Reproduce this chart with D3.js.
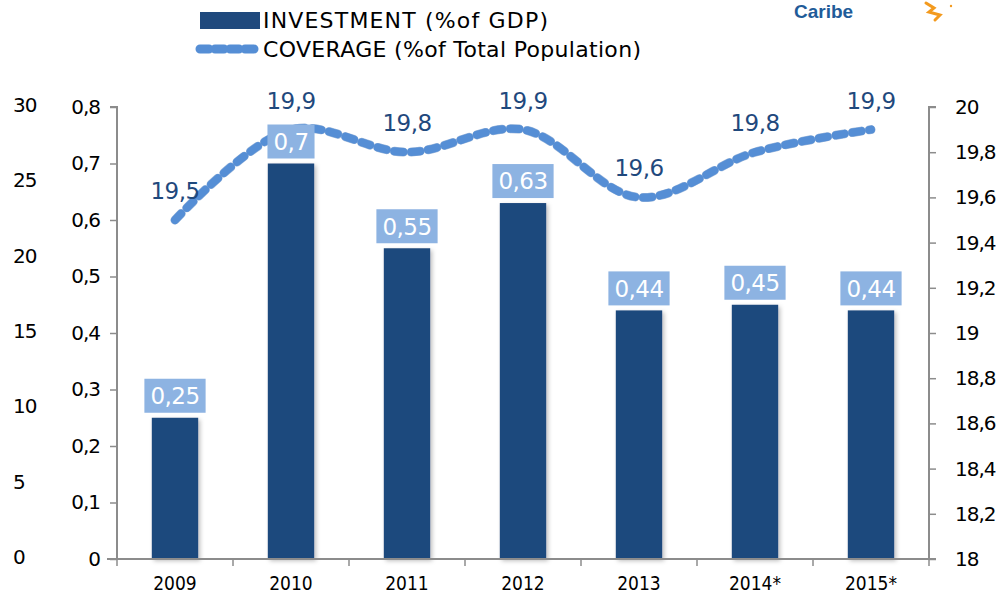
<!DOCTYPE html>
<html>
<head>
<meta charset="utf-8">
<script src="https://cdn.jsdelivr.net/npm/d3@7"></script>
<style>
  body { margin: 0; background: #fff; }
  svg { display: block; font-family: "DejaVu Sans", sans-serif; }
</style>
</head>
<body>
<svg id="chart" width="1004" height="593"></svg>
<script>
// ---- data ----
const years = ['2009', '2010', '2011', '2012', '2013', '2014*', '2015*'];
const investment = [0.25, 0.7, 0.55, 0.63, 0.44, 0.45, 0.44];
const coverage = [19.5, 19.9, 19.8, 19.9, 19.6, 19.8, 19.9];
const leftTicks = [0, 0.1, 0.2, 0.3, 0.4, 0.5, 0.6, 0.7, 0.8];
const farLeftTicks = [0, 5, 10, 15, 20, 25, 30];
const rightTicks = [18, 18.2, 18.4, 18.6, 18.8, 19, 19.2, 19.4, 19.6, 19.8, 20];

const fmt = v => String(+v.toFixed(2)).replace('.', ',');

const svg = d3.select('#chart');
const mLeft = 117, mRight = 929, mTop = 107, mBottom = 559;

const x = d3.scaleBand().domain(years).range([mLeft, mRight]).paddingInner(0.6).paddingOuter(0.3);
const xb = d3.scaleBand().domain(years).range([mLeft, mRight]);
const yL = d3.scaleLinear().domain([0, 0.8]).range([mBottom, mTop]);
const yF = d3.scaleLinear().domain([0, 30]).range([mBottom, mTop]);
const yR = d3.scaleLinear().domain([18, 20]).range([mBottom, mTop]);

const axisCol = '#8c8c8c';

// shadow for bars
const defs = svg.append('defs');
const f = defs.append('filter').attr('id', 'sh').attr('x', '-20%').attr('y', '-10%').attr('width', '140%').attr('height', '130%');
f.append('feDropShadow').attr('dx', 2).attr('dy', 2).attr('stdDeviation', 2).attr('flood-color', '#000').attr('flood-opacity', 0.25);

// bars
svg.append('g').selectAll('rect')
  .data(investment)
  .enter()
  .append('rect')
  .attr('x', (d, i) => x(years[i]))
  .attr('width', x.bandwidth())
  .attr('y', d => yL(d))
  .attr('height', d => mBottom - yL(d))
  .attr('fill', '#1f497d')
  .attr('filter', 'url(#sh)');

// left axis
const gL = svg.append('g').attr('transform', 'translate(' + mLeft + ',0)')
  .call(d3.axisLeft(yL).tickValues(leftTicks).tickSize(7).tickPadding(10).tickFormat(fmt));
// far-left axis, no line
const gF = svg.append('g').attr('transform', 'translate(13,-2)')
  .call(d3.axisRight(yF).tickValues(farLeftTicks).tickSize(0).tickPadding(0).tickFormat(fmt));
gF.select('.domain').remove();
// right axis
const gR = svg.append('g').attr('transform', 'translate(' + mRight + ',0)')
  .call(d3.axisRight(yR).tickValues(rightTicks).tickSize(7).tickPadding(19).tickFormat(fmt));

[gL, gF, gR].forEach(g => {
  g.select('.domain').attr('stroke', axisCol).attr('stroke-width', 2);
  g.selectAll('.tick line').attr('stroke', axisCol).attr('stroke-width', 1.5);
  g.selectAll('.tick text').attr('fill', '#000').style('font-size', '20px').style('letter-spacing', '-1px')
    .attr('font-family', '"DejaVu Sans", sans-serif');
});
gL.select('.domain').attr('d', 'M-7,' + mTop + 'H0V' + mBottom + 'H-7');
gR.select('.domain').attr('d', 'M7,' + mTop + 'H0V' + mBottom + 'H7');

// x axis
svg.append('line').attr('x1', 107).attr('x2', mRight).attr('y1', mBottom).attr('y2', mBottom)
  .attr('stroke', axisCol).attr('stroke-width', 2);
svg.append('g').selectAll('line')
  .data(years.concat(['end']))
  .enter()
  .append('line')
  .attr('x1', d => d === 'end' ? mRight : xb(d))
  .attr('x2', d => d === 'end' ? mRight : xb(d))
  .attr('y1', mBottom).attr('y2', mBottom + 7)
  .attr('stroke', axisCol).attr('stroke-width', 1.5);
svg.append('g').selectAll('text')
  .data(years)
  .enter()
  .append('text')
  .attr('x', d => xb(d) + xb.bandwidth() / 2)
  .attr('y', 590)
  .attr('text-anchor', 'middle')
  .style('font-family', '"DejaVu Sans Condensed", "DejaVu Sans", sans-serif')
  .style('font-stretch', 'condensed')
  .style('font-size', '19px')
  .text(d => d);

// coverage line
const line = d3.line()
  .x((d, i) => xb(years[i]) + xb.bandwidth() / 2)
  .y(d => yR(d))
  .curve(d3.curveCatmullRom.alpha(0.5));
svg.append('path')
  .datum(coverage)
  .attr('d', line)
  .attr('fill', 'none')
  .attr('stroke', '#3a6fb5')
  .attr('stroke-width', 9)
  .attr('stroke-dasharray', '9 8')
  .attr('stroke-linecap', 'round')
  .attr('opacity', 0.5);
svg.append('path')
  .datum(coverage)
  .attr('d', line)
  .attr('fill', 'none')
  .attr('stroke', '#558ed5')
  .attr('stroke-width', 8)
  .attr('stroke-dasharray', '9 8')
  .attr('stroke-linecap', 'round');

// bar labels (boxes)
const lbl = svg.append('g').selectAll('g')
  .data(investment)
  .enter()
  .append('g')
  .attr('transform', (d, i) => 'translate(' + (xb(years[i]) + xb.bandwidth() / 2) + ',' + (yL(d) - 22) + ')');
lbl.append('text')
  .attr('class', 'bl')
  .attr('text-anchor', 'middle')
  .attr('dy', '0.36em')
  .attr('fill', '#fff')
  .style('font-size', '23px')
  .style('letter-spacing', '-0.5px')
  .text(d => fmt(d));
lbl.each(function () {
  const g = d3.select(this);
  const bb = g.select('text').node().getBBox();
  g.insert('rect', 'text')
    .attr('x', bb.x - 6).attr('width', bb.width + 12)
    .attr('y', -17).attr('height', 34)
    .attr('fill', '#8db3e2');
});

// coverage labels
svg.append('g').selectAll('text')
  .data(coverage)
  .enter()
  .append('text')
  .attr('x', (d, i) => xb(years[i]) + xb.bandwidth() / 2)
  .attr('y', d => yR(d) - 21)
  .attr('text-anchor', 'middle')
  .attr('fill', '#1f497d')
  .style('font-size', '23px')
  .style('letter-spacing', '-0.5px')
  .text(d => fmt(d));

// legend
const leg = svg.append('g');
leg.append('rect').attr('x', 200).attr('y', 12).attr('width', 60).attr('height', 17).attr('fill', '#1f497d');
leg.append('text').attr('x', 263).attr('y', 28).style('font-size', '22px')
  .attr('textLength', 285).attr('lengthAdjust', 'spacing')
  .text('INVESTMENT (%of GDP)');
leg.append('line').attr('x1', 200).attr('x2', 257).attr('y1', 49).attr('y2', 49)
  .attr('stroke', '#558ed5').attr('stroke-width', 9).attr('stroke-dasharray', '9 6').attr('stroke-linecap', 'round');
leg.append('text').attr('x', 263).attr('y', 57).style('font-size', '22px')
  .attr('textLength', 378).attr('lengthAdjust', 'spacing')
  .text('COVERAGE (%of Total Population)');

// logo fragments top right
svg.append('text').attr('x', 794).attr('y', 18).attr('fill', '#1f5c99')
  .style('font-family', '"Liberation Sans", sans-serif').style('font-weight', 'bold').style('font-size', '19px')
  .text('Caribe');
svg.append('path')
  .attr('d', 'M926,3 L934,8 L929,12 L940,15 L935,20')
  .attr('fill', 'none').attr('stroke', '#f39a1e').attr('stroke-width', 3).attr('stroke-linecap', 'round');
svg.append('circle').attr('cx', 951).attr('cy', 6).attr('r', 1.2).attr('fill', '#f39a1e');
</script>
</body>
</html>
